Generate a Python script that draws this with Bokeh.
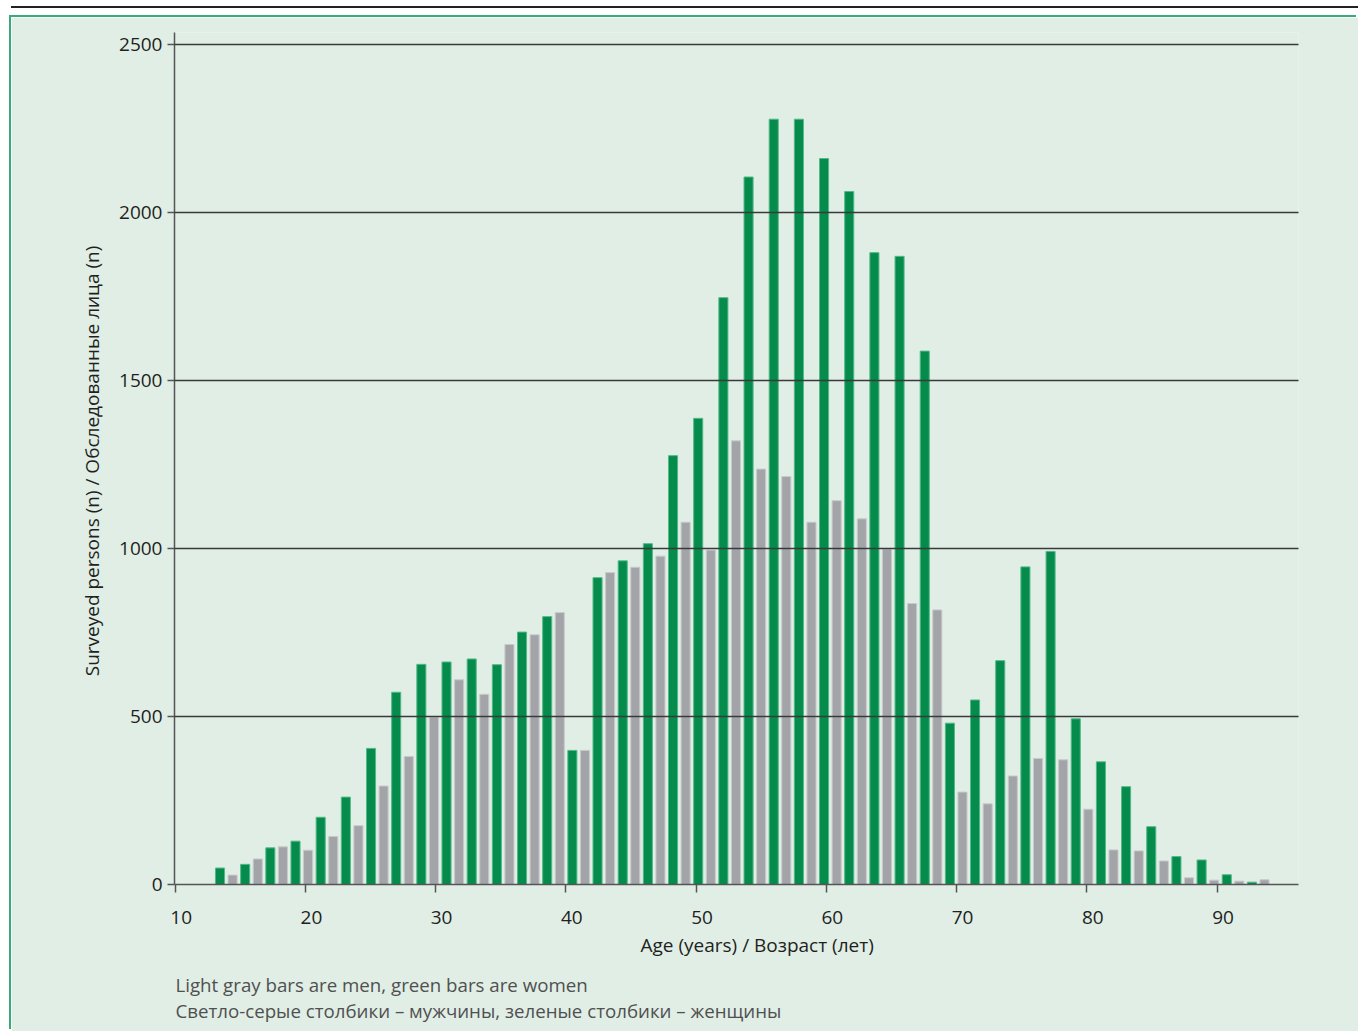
from bokeh.plotting import figure
from bokeh.models import Range1d, LinearAxis, FixedTicker, Title, ColumnDataSource
from bokeh.transform import dodge
from bokeh.embed import file_html
from bokeh.resources import INLINE

# ---- data -------------------------------------------------------------
age_groups = list(range(13, 97, 2))  # first age of each two-year group
women = [49, 60, 109, 129, 200, 260, 405, 572, 655, 662, 671, 654, 751, 797,
         399, 913, 963, 1014, 1276, 1387, 1746, 2105, 2277, 2277, 2160, 2062,
         1880, 1869, 1587, 480, 549, 666, 945, 991, 493, 365, 291, 172, 83,
         73, 29, 7]
men = [28, 76, 112, 102, 143, 175, 293, 381, 498, 609, 566, 714, 743, 809,
       399, 928, 944, 977, 1078, 995, 1320, 1236, 1214, 1078, 1142, 1088,
       998, 836, 817, 275, 240, 323, 375, 371, 224, 103, 100, 70, 20, 13,
       10, 14]
x_ticks = [10, 20, 30, 40, 50, 60, 70, 80, 90]
y_ticks = [0, 500, 1000, 1500, 2000, 2500]

x_title = "Age (years) / Возраст (лет)"
y_title = "Surveyed persons (n) / Обследованные лица  (n)"
note_en = "Light gray bars are men, green bars are women"
note_ru = "Светло-серые столбики – мужчины, зеленые столбики – женщины"

# ---- style ------------------------------------------------------------
GREEN = "#058b4b"
GREEN_EDGE = "#52b987"
GRAY = "#a3a4a8"
GRAY_EDGE = "#c9cacc"
BG = "#e0eee6"
FONT = "Open Sans"
TXT = "#231f20"

p = figure(width=1347, height=1014,
           x_range=Range1d(9.95, 96.25), y_range=Range1d(0, 2535),
           x_axis_type=None, output_backend="svg", toolbar_location=None,
           min_border_left=163, min_border_right=60,
           min_border_top=15, min_border_bottom=147,
           background_fill_color=BG, border_fill_color=BG,
           outline_line_color=None)
p.margin = (17, 0, 0, 11)
p.styles = {"box-shadow": "-2px -2px 0 0 #3aa97b, 0 -9px 0 0 #ffffff, 0 -11px 0 0 #222222"}

p.extra_x_ranges = {
    "bars": Range1d(9.384, 98.70),
    "labels": Range1d(9.95 - 0.46, 96.25 - 0.46),
}

src = ColumnDataSource(dict(age=age_groups, women=women, men=men))
p.vbar(x="age", top="women", width=0.72, source=src, x_range_name="bars",
       fill_color=GREEN, line_color=GREEN_EDGE, line_width=1)
p.vbar(x=dodge("age", 1.0), top="men", width=0.72, source=src,
       x_range_name="bars", fill_color=GRAY, line_color=GRAY_EDGE, line_width=1)

# y axis
ya = p.yaxis[0]
ya.ticker = FixedTicker(ticks=y_ticks)
ya.major_tick_out = 7
ya.major_tick_in = 0
ya.minor_tick_line_color = None
ya.axis_line_color = "#555555"
ya.axis_line_width = 1.5
ya.major_tick_line_color = "#555555"
ya.major_tick_line_width = 1.5
ya.major_label_standoff = 5
ya.major_label_text_font = FONT
ya.major_label_text_font_size = "19px"
ya.major_label_text_color = TXT
ya.axis_label = y_title
ya.axis_label_standoff = 11
ya.axis_label_text_font = FONT
ya.axis_label_text_font_size = "19px"
ya.axis_label_text_font_style = "normal"
ya.axis_label_text_color = TXT

p.ygrid.ticker = FixedTicker(ticks=y_ticks)
p.ygrid.grid_line_color = "#3a3a3a"
p.ygrid.grid_line_width = 1.3
p.ygrid.level = "annotation"

# x axis line and tick marks on the age scale (tick marks without labels)
ax_t = LinearAxis(ticker=FixedTicker(ticks=[], minor_ticks=x_ticks),
                  major_tick_out=8, major_tick_in=0,
                  minor_tick_out=8, minor_tick_in=0,
                  major_label_standoff=0,
                  axis_line_color="#555555", axis_line_width=1.5,
                  major_tick_line_color="#555555", major_tick_line_width=1.5,
                  minor_tick_line_color="#555555", minor_tick_line_width=1.5)
p.add_layout(ax_t, "below")
# tick labels, set slightly right of the ticks as in the original
ax_l = LinearAxis(x_range_name="labels", ticker=FixedTicker(ticks=x_ticks),
                  axis_line_color=None, major_tick_line_color=None,
                  major_tick_out=0, major_tick_in=0,
                  minor_tick_line_color=None, major_label_standoff=18,
                  major_label_text_font=FONT, major_label_text_font_size="19px",
                  major_label_text_color=TXT)
p.add_layout(ax_l, "below")

p.add_layout(Title(text=x_title, align="left", offset=466, standoff=6,
                   text_font=FONT, text_font_size="19px",
                   text_font_style="normal", text_color=TXT), "below")
p.add_layout(Title(text=note_en, align="left", offset=1, standoff=18,
                   text_font=FONT, text_font_size="18.7px",
                   text_font_style="normal", text_color="#505050"), "below")
p.add_layout(Title(text=note_ru, align="left", offset=1, standoff=-20,
                   text_font=FONT, text_font_size="18.7px",
                   text_font_style="normal", text_color="#505050"), "below")

open("out.html", "w").write(file_html(p, INLINE))
